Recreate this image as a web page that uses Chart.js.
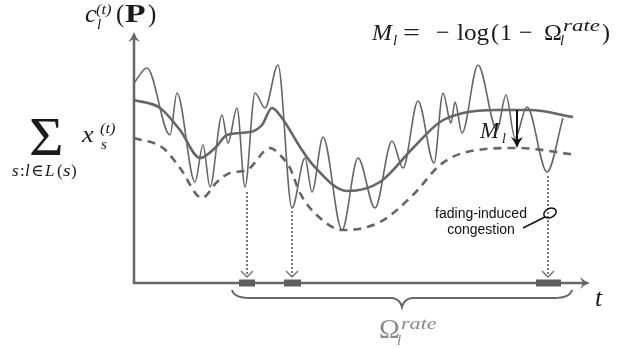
<!DOCTYPE html>
<html>
<head>
<meta charset="utf-8">
<script src="https://cdn.jsdelivr.net/npm/chart.js"></script>
<style>body{margin:0;background:#fff}</style>
</head>
<body>
<canvas id="chart" width="625" height="349"></canvas>
<script>
// t = time along the axis, c = capacity above the axis (origin at the axes corner)
const fadingT = [0,13,36,43,61,69,76,88,94,103,111,121,131,144,158,171,178,189,208,224,241,258,269,284,300,309,317,321,328,344,363,372,381,393,413,429];
const fadingC = [200,215,148,190,101,138,96,168,140,175,96,190,175,218,75,125,91,146,53,125,75,142,115,182,120,190,160,181,150,218,153,188,145,176,111,165];
const meanT = [0,26,46,66,81,93,116,128,138,148,166,179,213,246,279,306,329,363,396,439];
const meanC = [183,175,153,125,135,148,151,158,175,165,136,118,92,101,135,161,170,173,173,166];
const floorT = [0,29,46,68,83,96,113,136,146,156,166,186,209,246,279,306,329,383,443];
const floorC = [145,135,115,85,101,110,113,135,128,115,90,65,53,61,88,118,130,135,128];

// congestion intervals on the time axis and where the drops come from
const congestStart = [105,150,402];
const congestEnd = [121,167,427];
const dropT = [113,158,414];
const dropC = [91,72,107];
const marginT = 383, marginTop = 173, marginBottom = 135;
const axisTopC = 251, axisEndT = 456;
const braceStart = 98, braceEnd = 438;

const grey = '#666666';

function pts(xs, ys) { return xs.map((x, i) => ({x: x, y: ys[i]})); }

function put(ctx, txt, x, y, font, color, sx) {
  ctx.save();
  ctx.font = font;
  ctx.fillStyle = color || '#111';
  ctx.textAlign = 'left';
  ctx.textBaseline = 'alphabetic';
  ctx.translate(x, y);
  ctx.scale(sx || 1, 1);
  ctx.fillText(txt, 0, 0);
  ctx.restore();
}

const decor = {
  id: 'decor',
  afterDatasetsDraw(chart) {
    const ctx = chart.ctx;
    const X = v => chart.scales.x.getPixelForValue(v);
    const Y = v => chart.scales.y.getPixelForValue(v);
    const ox = X(0), oy = Y(0);
    ctx.save();
    ctx.lineCap = 'butt';

    // axes
    ctx.strokeStyle = grey;
    ctx.fillStyle = grey;
    ctx.lineWidth = 2.5;
    ctx.beginPath();
    ctx.moveTo(ox, Y(axisTopC) + 4);
    ctx.lineTo(ox, oy);
    ctx.lineTo(X(axisEndT) - 4, oy);
    ctx.stroke();
    // arrow heads
    let tx = ox, ty = Y(axisTopC);
    ctx.beginPath();
    ctx.moveTo(tx, ty);
    ctx.quadraticCurveTo(tx + 2, ty + 6, tx + 6, ty + 10);
    ctx.lineTo(tx, ty + 7);
    ctx.lineTo(tx - 6, ty + 10);
    ctx.quadraticCurveTo(tx - 2, ty + 6, tx, ty);
    ctx.fill();
    tx = X(axisEndT); ty = oy;
    ctx.beginPath();
    ctx.moveTo(tx, ty);
    ctx.quadraticCurveTo(tx - 6, ty - 2, tx - 10, ty - 6);
    ctx.lineTo(tx - 7, ty);
    ctx.lineTo(tx - 10, ty + 6);
    ctx.quadraticCurveTo(tx - 6, ty + 2, tx, ty);
    ctx.fill();

    // congestion markers
    ctx.fillStyle = '#5e5e5e';
    congestStart.forEach((s, i) => {
      ctx.fillRect(X(s), oy - 3.5, X(congestEnd[i]) - X(s), 7);
    });

    // dotted drop arrows
    ctx.strokeStyle = '#777';
    dropT.forEach((t, i) => {
      const x = X(t), y0 = Y(dropC[i]), y1 = oy - 6;
      ctx.lineWidth = 2;
      ctx.setLineDash([2, 2]);
      ctx.beginPath();
      ctx.moveTo(x, y0);
      ctx.lineTo(x, y1);
      ctx.stroke();
      ctx.setLineDash([]);
      ctx.lineWidth = 1.5;
      ctx.beginPath();
      ctx.moveTo(x - 6, y1 - 6);
      ctx.lineTo(x, y1);
      ctx.lineTo(x + 6, y1 - 6);
      ctx.stroke();
    });

    // brace under the axis
    const bl = X(braceStart), br = X(braceEnd), bm = (bl + br) / 2;
    ctx.strokeStyle = grey;
    ctx.lineWidth = 2;
    ctx.beginPath();
    ctx.moveTo(bl, oy + 7);
    ctx.quadraticCurveTo(bl + 2, oy + 15, bl + 18, oy + 15);
    ctx.lineTo(bm - 10, oy + 15);
    ctx.quadraticCurveTo(bm - 2, oy + 16, bm, oy + 24);
    ctx.quadraticCurveTo(bm + 2, oy + 16, bm + 10, oy + 15);
    ctx.lineTo(br - 18, oy + 15);
    ctx.quadraticCurveTo(br - 2, oy + 15, br, oy + 7);
    ctx.stroke();

    // margin arrow M_l
    const mx = X(marginT), my0 = Y(marginTop), my1 = Y(marginBottom);
    ctx.strokeStyle = '#111';
    ctx.fillStyle = '#111';
    ctx.lineWidth = 2;
    ctx.beginPath();
    ctx.moveTo(mx, my0);
    ctx.lineTo(mx, my1 - 6);
    ctx.stroke();
    ctx.beginPath();
    ctx.moveTo(mx, my1);
    ctx.quadraticCurveTo(mx - 2, my1 - 6, mx - 6, my1 - 11);
    ctx.lineTo(mx, my1 - 8);
    ctx.lineTo(mx + 6, my1 - 11);
    ctx.quadraticCurveTo(mx + 2, my1 - 6, mx, my1);
    ctx.fill();

    // fading-induced congestion callout
    ctx.lineWidth = 1.5;
    ctx.beginPath();
    ctx.moveTo(523, 228);
    ctx.lineTo(545, 217);
    ctx.stroke();
    ctx.beginPath();
    ctx.ellipse(550, 213, 6.5, 4.5, -0.45, 0, Math.PI * 2);
    ctx.stroke();
    ctx.font = '14px "Liberation Sans", Arial, sans-serif';
    ctx.fillStyle = '#111';
    ctx.textAlign = 'center';
    ctx.fillText('fading-induced', 481, 218);
    ctx.fillText('congestion', 481, 234);

    // math labels
    const serif = '"Liberation Serif", "DejaVu Serif", serif';
    const it = s => 'italic ' + s + 'px ' + serif;
    const rm = s => s + 'px ' + serif;
    const ink = '#1a1a1a';

    // c_l^(t)(P)
    put(ctx, 'c', 85, 22, it(26), ink);
    put(ctx, '(t)', 96, 14, it(15), ink, 1.1);
    put(ctx, 'l', 97, 29, it(15), ink);
    put(ctx, '(', 116, 22, rm(25), ink);
    put(ctx, 'P', 125, 22, 'bold ' + rm(25), ink, 1.35);
    put(ctx, ')', 148, 22, rm(25), ink);

    // sum over flows
    put(ctx, 'Σ', 29, 155, rm(54), ink, 1.1);
    put(ctx, 'x', 82, 142, it(24), ink, 1.1);
    put(ctx, '(t)', 100, 133, it(15), ink, 1.1);
    put(ctx, 's', 101, 149, it(15), ink);
    put(ctx, 's', 12, 176, it(17), ink);
    put(ctx, ':', 20, 176, rm(17), ink);
    put(ctx, 'l', 25, 176, it(17), ink);
    put(ctx, '∈', 31, 176, rm(17), ink);
    put(ctx, 'L', 45, 176, it(17), ink);
    put(ctx, '(', 57, 176, rm(17), ink);
    put(ctx, 's', 63, 176, it(17), ink, 1.15);
    put(ctx, ')', 71, 176, rm(17), ink);

    // M_l = -log(1 - Omega_l^rate)
    put(ctx, 'M', 372, 40, it(24), ink);
    put(ctx, 'l', 393, 45, it(15), ink);
    put(ctx, '=', 403, 40, rm(24), ink, 1.25);
    put(ctx, '−', 436, 40, rm(24), ink);
    put(ctx, 'log', 457, 40, rm(24), ink, 1.05);
    put(ctx, '(', 491, 40, rm(24), ink);
    put(ctx, '1', 500, 40, rm(24), ink);
    put(ctx, '−', 519, 40, rm(24), ink);
    put(ctx, 'Ω', 544, 40, rm(24), ink);
    put(ctx, 'rate', 563, 31, it(17), ink, 1.35);
    put(ctx, 'l', 560, 45, it(15), ink);
    put(ctx, ')', 602, 40, rm(24), ink);

    // M_l next to the arrow
    put(ctx, 'M', 480, 138, it(23), ink);
    put(ctx, 'l', 502, 143, it(14), ink);

    // t and Omega under the axis
    put(ctx, 't', 595, 306, it(26), ink);
    put(ctx, 'Ω', 379, 338, rm(28), '#8a8a8a');
    put(ctx, 'rate', 401, 329, it(17), '#8a8a8a', 1.3);
    put(ctx, 'l', 397, 345, it(15), '#8a8a8a');

    ctx.restore();
  }
};

new Chart(document.getElementById('chart'), {
  type: 'line',
  data: {
    datasets: [
      {
        label: 'fading capacity',
        data: pts(fadingT, fadingC),
        borderColor: grey,
        borderWidth: 1.6,
        cubicInterpolationMode: 'monotone',
        pointRadius: 0
      },
      {
        label: 'mean capacity',
        data: pts(meanT, meanC),
        borderColor: grey,
        borderWidth: 2.6,
        cubicInterpolationMode: 'monotone',
        pointRadius: 0
      },
      {
        label: 'flow sum',
        data: pts(floorT, floorC),
        borderColor: grey,
        borderWidth: 2.6,
        borderDash: [8, 6],
        cubicInterpolationMode: 'monotone',
        pointRadius: 0
      }
    ]
  },
  options: {
    responsive: false,
    animation: false,
    events: [],
    layout: {padding: 0},
    plugins: {legend: {display: false}, tooltip: {enabled: false}},
    scales: {
      x: {type: 'linear', min: -134, max: 491, display: false},
      y: {type: 'linear', min: -66, max: 283, display: false}
    }
  },
  plugins: [decor]
});
</script>
</body>
</html>
